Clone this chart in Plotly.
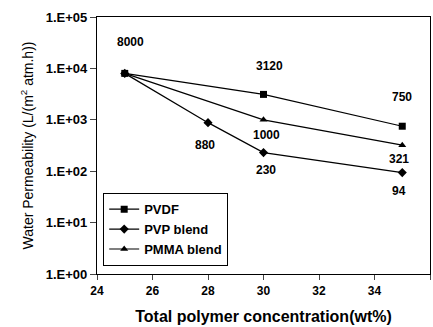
import math
import plotly.graph_objects as go

# Water permeability vs. total polymer concentration
pvdf_x = [25, 30, 35]
pvdf_y = [8000, 3120, 750]
pvp_x = [25, 28, 30, 35]
pvp_y = [8000, 880, 230, 94]
pmma_x = [25, 30, 35]
pmma_y = [8000, 1000, 321]

x_ticks = [24, 26, 28, 30, 32, 34, 36]
y_ticks = [1, 10, 100, 1000, 10000, 100000]
y_tick_text = ["1.E+00", "1.E+01", "1.E+02", "1.E+03", "1.E+04", "1.E+05"]

FONT = "Liberation Sans, Arial, sans-serif"

fig = go.Figure()
series = [
    ("PVDF", pvdf_x, pvdf_y, "square"),
    ("PVP blend", pvp_x, pvp_y, "diamond"),
    ("PMMA blend", pmma_x, pmma_y, "triangle-up"),
]
for name, xs, ys, sym in series:
    fig.add_trace(go.Scatter(
        x=xs, y=ys, name=name, mode="lines+markers",
        line=dict(color="black", width=1.2),
        marker=dict(symbol=sym, size=7, color="black"),
    ))

# value labels: (x, y, text, vertical shift in px)
labels = [
    (25.2, pvdf_y[0], "8000", 31),
    (30.2, pvdf_y[1], "3120", 28),
    (35.0, pvdf_y[2], "750", 29),
    (30.1, pmma_y[1], "1000", -15),
    (34.9, pmma_y[2], "321", -14),
    (27.9, pvp_y[1], "880", -22),
    (30.1, pvp_y[2], "230", -17),
    (34.9, pvp_y[3], "94", -18),
]
for lx, ly, txt, dy in labels:
    fig.add_annotation(
        x=lx, y=math.log10(ly), text=txt, showarrow=False, yshift=dy,
        font=dict(family=FONT, size=12, color="black", weight="bold"),
    )

fig.update_layout(
    width=433, height=327,
    margin=dict(l=97, r=3, t=17, b=53),
    paper_bgcolor="white", plot_bgcolor="white",
    font=dict(family=FONT, color="black"),
    showlegend=True,
    legend=dict(
        x=0.018, y=0.315, xanchor="left", yanchor="top",
        bordercolor="black", borderwidth=1.2, bgcolor="white",
        font=dict(family=FONT, size=13, weight="bold"),
        tracegroupgap=0, itemwidth=30,
    ),
    xaxis=dict(
        range=[24, 36], tickvals=x_ticks, ticks="outside", ticklen=5,
        tickwidth=1.2, linecolor="black", linewidth=1.2, mirror=True,
        showgrid=False, zeroline=False,
        tickfont=dict(family=FONT, size=12, weight="bold"),
        title=dict(text="Total polymer concentration(wt%)",
                   font=dict(family=FONT, size=16, weight="bold"), standoff=14),
    ),
    yaxis=dict(
        type="log", range=[0, 5], tickvals=y_ticks, ticktext=y_tick_text,
        ticks="outside", ticklen=6, tickwidth=1.2, linecolor="black",
        linewidth=1.2, mirror=True, showgrid=False, zeroline=False,
        tickfont=dict(family=FONT, size=13, weight="bold"),
        title=dict(text="Water Permeability (L/(m<sup>2</sup> atm.h))",
                   font=dict(family=FONT, size=14), standoff=8),
    ),
)

fig.write_html("out.html")
